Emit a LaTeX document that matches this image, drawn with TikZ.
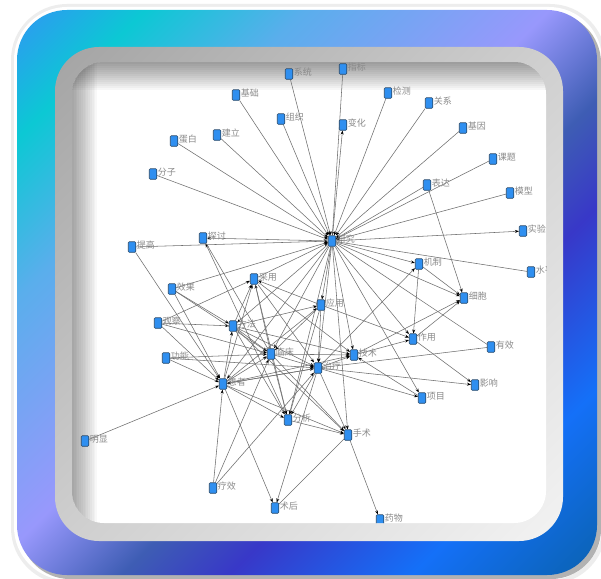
\documentclass[tikz,border=0pt]{standalone}
\usepackage{fontspec}
\newfontfamily\cjk{Noto Sans CJK SC}
\usetikzlibrary{arrows.meta}
\definecolor{fA}{HTML}{2F98F2}
\definecolor{fB}{HTML}{0CC8D4}
\definecolor{fC}{HTML}{5AAEEC}
\definecolor{fD}{HTML}{9898FC}
\definecolor{fE}{HTML}{3E5DB4}
\definecolor{fF}{HTML}{3838C8}
\definecolor{fG}{HTML}{1470F8}
\definecolor{fH}{HTML}{0A62B0}
\definecolor{bzA}{HTML}{A4A4A4}
\definecolor{bzB}{HTML}{CFCFCF}
\definecolor{bzC}{HTML}{F3F3F3}
\definecolor{nodeblue}{HTML}{2F8FF0}
\definecolor{nodeedge}{HTML}{2A4A6A}
\definecolor{labgray}{HTML}{8A8A8A}
\definecolor{edgegray}{HTML}{6E6E6E}
\pgfdeclarehorizontalshading{framegrad}{100bp}{color(0bp)=(fA); color(14.6bp)=(fA); color(22.4bp)=(fB); color(32.3bp)=(fC); color(47.5bp)=(fD); color(56bp)=(fE); color(62.7bp)=(fF); color(74bp)=(fG); color(85.4bp)=(fH); color(100bp)=(fH)}
\pgfdeclarehorizontalshading{bezelgrad}{100bp}{color(0bp)=(bzA); color(14.6bp)=(bzA); color(50bp)=(bzB); color(85.4bp)=(bzC); color(100bp)=(bzC)}
\pgfdeclarelayer{bg}
\pgfdeclarelayer{edges}
\pgfsetlayers{bg,edges,main}
\tikzset{
  wn/.style={rectangle, rounded corners=1pt, minimum width=7.5pt, minimum height=10.5pt, inner sep=0pt, fill=nodeblue, draw=nodeedge, line width=0.6pt},
  lbl/.style={text=labgray, font=\cjk\fontsize{9}{10}\selectfont, inner sep=0.6pt, yshift=1.5pt},
  ed/.style={draw=edgegray, line width=0.55pt},
  ar/.style={ed, -{Stealth[length=4pt, width=3pt, black]}},
}
\begin{document}
\begin{tikzpicture}[x=1pt, y=-1pt]
\useasboundingbox (0,0) rectangle (601,578);
\begin{pgfonlayer}{bg}
  \fill[white] (0,0) rectangle (601,578);
  \fill[black!7, rounded corners=56] (11,4) rectangle (606,584);
  \fill[white, rounded corners=53] (14,7) rectangle (602,580);
  \fill[black!30, rounded corners=50] (20,13) rectangle (601,579);
  \shade[shading=framegrad, shading angle=-45, rounded corners=50] (17,10) rectangle (597,575);
  \shade[shading=bezelgrad, shading angle=-45, rounded corners=44] (55,47) rectangle (563,541);
  \fill[white, rounded corners=32] (72,62) rectangle (546,523);
  \begin{scope}
    \clip[rounded corners=32] (72,62) rectangle (546,523);
    \foreach \k in {1,...,14} {
      \fill[black, opacity=0.03] (60,50) rectangle (560,{62+2*\k});
      \fill[black, opacity=0.026] (60,50) rectangle ({72+1.8*\k},530);
    }
  \end{scope}
\end{pgfonlayer}
\begin{scope}
  \clip[rounded corners=32] (72,62) rectangle (546,523);
  \node[wn, label={[lbl]right:研究}] (yj) at (332,241) {};
  \node[wn, label={[lbl]right:系统}] (xt) at (289,74) {};
  \node[wn, label={[lbl]right:指标}] (zb) at (343,69) {};
  \node[wn, label={[lbl]right:基础}] (jc) at (236,95) {};
  \node[wn, label={[lbl]right:检测}] (jcc) at (388,93) {};
  \node[wn, label={[lbl]right:关系}] (gx) at (429,103) {};
  \node[wn, label={[lbl]right:组织}] (zz) at (281,119) {};
  \node[wn, label={[lbl]right:变化}] (bh) at (343,125) {};
  \node[wn, label={[lbl]right:蛋白}] (db) at (174,141) {};
  \node[wn, label={[lbl]right:建立}] (jl) at (217,135) {};
  \node[wn, label={[lbl]right:基因}] (jy) at (463,128) {};
  \node[wn, label={[lbl]right:分子}] (fz) at (153,174) {};
  \node[wn, label={[lbl]right:课题}] (kt) at (493,159) {};
  \node[wn, label={[lbl]right:表达}] (bd) at (427,185) {};
  \node[wn, label={[lbl]right:模型}] (mx) at (510,193) {};
  \node[wn, label={[lbl]right:实验}] (sy) at (523,231) {};
  \node[wn, label={[lbl]right:探讨}] (tt) at (203,238) {};
  \node[wn, label={[lbl]right:提高}] (tg) at (132,247) {};
  \node[wn, label={[lbl]right:水平}] (sp) at (531,272) {};
  \node[wn, label={[lbl]right:机制}] (jz) at (419,264) {};
  \node[wn, label={[lbl]right:采用}] (cy) at (254,279) {};
  \node[wn, label={[lbl]right:效果}] (xg) at (172,289) {};
  \node[wn, label={[lbl]right:细胞}] (xb) at (464,298) {};
  \node[wn, label={[lbl]right:应用}] (yy) at (321,305) {};
  \node[wn, label={[lbl]right:方法}] (ff) at (233,326) {};
  \node[wn, label={[lbl]right:观察}] (gc) at (158,323) {};
  \node[wn, label={[lbl]right:作用}] (zy) at (413,339) {};
  \node[wn, label={[lbl]right:有效}] (yx) at (491,347) {};
  \node[wn, label={[lbl]right:临床}] (lc) at (271,354) {};
  \node[wn, label={[lbl]right:技术}] (js) at (354,355) {};
  \node[wn, label={[lbl]right:功能}] (gn) at (166,358) {};
  \node[wn, label={[lbl]right:治疗}] (zl) at (318,368) {};
  \node[wn, label={[lbl]right:患者}] (hz) at (223,384) {};
  \node[wn, label={[lbl]right:影响}] (yxx) at (475,385) {};
  \node[wn, label={[lbl]right:项目}] (xm) at (422,398) {};
  \node[wn, label={[lbl]right:分析}] (fx) at (288,420) {};
  \node[wn, label={[lbl]right:手术}] (ss) at (348,435) {};
  \node[wn, label={[lbl]right:明显}] (mxx) at (85,441) {};
  \node[wn, label={[lbl]right:疗效}] (lx) at (213,488) {};
  \node[wn, label={[lbl]right:术后}] (sh) at (275,508) {};
  \node[wn, label={[lbl]right:药物}] (yw) at (380,520) {};
\end{scope}
\begin{pgfonlayer}{edges}
\begin{scope}
  \clip[rounded corners=32] (72,62) rectangle (546,523);
  \foreach \s in {xt,zb,jc,jcc,gx,zz,db,jl,jy,fz,kt,bd,mx,tg,xg,cy}
    \draw[ar] (\s) -- (yj);
  \foreach \t in {bh,sy,xb,yy,jz,tt,ff,lc,js,zl,hz,fx,ss,zy,xm}
    \draw[ar] (yj) -- (\t);
  \draw[ed] (yj) -- (sp);
  \draw[ed] (yj) -- (yx);
  \foreach \s/\t in {bd/xb, jz/xb, jz/zy, zl/jz, zy/xb, js/xb, zy/yxx, zl/yxx, zl/xm, xm/js,
      cy/js, yy/cy, ff/cy, hz/cy, lc/cy, cy/fx, cy/zl, gc/ff, gc/lc, gc/hz, gc/cy,
      xg/ff, xg/lc, xg/hz, tg/hz, fx/tt, gn/lc, gn/zl, gn/hz, mxx/hz, lx/hz, lx/lc, lx/zl,
      hz/sh, zl/sh, ss/yw, lc/js, lc/zl, lc/fx, lc/ss, hz/lc, ff/lc, ff/js, ff/zl, ff/yy,
      ff/fx, ff/ss, hz/zl, hz/fx, hz/ss, hz/js, hz/ff, hz/yy, zl/js, zl/fx, zl/ss, zl/hz,
      yy/fx, yy/lc, yy/zl, yy/zy, fx/ss, js/zy}
    \draw[ar] (\s) -- (\t);
  \draw[ed] (yx) -- (zl);
  \draw[ed] (tt) -- (lc);
  \draw[ed] (ss) -- (sh);
\end{scope}
\end{pgfonlayer}
\end{tikzpicture}
\end{document}
